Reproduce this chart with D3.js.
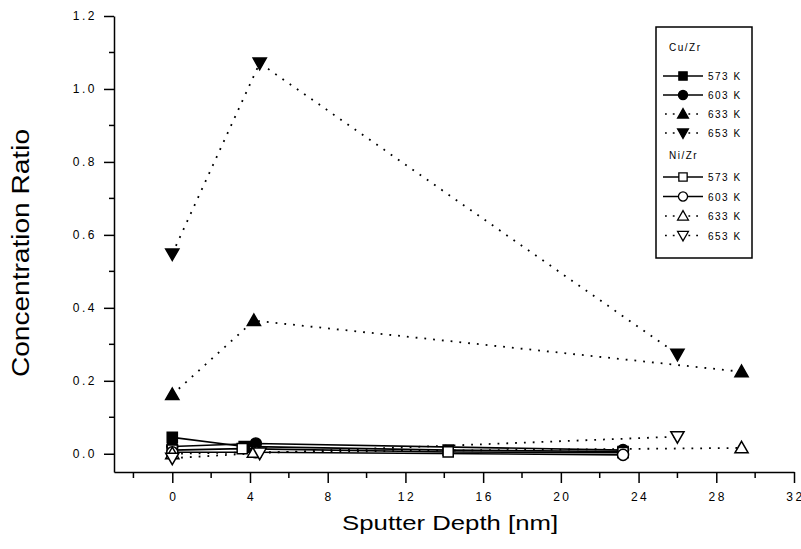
<!DOCTYPE html>
<html>
<head>
<meta charset="utf-8">
<script src="https://cdn.jsdelivr.net/npm/d3@7"></script>
<style>
  body { margin: 0; background: #fff; }
  text { font-family: "Liberation Sans", Arial, sans-serif; fill: #000; }
</style>
</head>
<body>
<div class="chart"></div>
<script>
// series: [depth nm, ratio]
const cuZr573 = [[0, 0.045], [3.7, 0.02], [14.2, 0.01], [23.2, 0.006]];
const cuZr603 = [[0, 0.02], [4.3, 0.028], [23.2, 0.01]];
const cuZr633 = [[0, 0.162], [4.2, 0.365], [29.3, 0.225]];
const cuZr653 = [[0, 0.548], [4.5, 1.071], [26, 0.273]];
const niZr573 = [[0, 0.01], [3.6, 0.014], [14.2, 0.005], [23.2, 0.003]];
const niZr603 = [[0, 0.004], [4.3, 0.004], [23.2, -0.003]];
const niZr633 = [[0, 0.0], [4.2, 0.004], [29.3, 0.016]];
const niZr653 = [[0, -0.012], [4.5, 0.002], [26, 0.047]];

const xTicks = [0, 4, 8, 12, 16, 20, 24, 28, 32];
const yTicks = [0.0, 0.2, 0.4, 0.6, 0.8, 1.0, 1.2];

const series = [
  { group: 'Cu/Zr', name: '573 K', data: cuZr573, sym: d3.symbolSquare, fill: true, dotted: false },
  { group: 'Cu/Zr', name: '603 K', data: cuZr603, sym: d3.symbolCircle, fill: true, dotted: false },
  { group: 'Cu/Zr', name: '633 K', data: cuZr633, sym: 'up', fill: true, dotted: true },
  { group: 'Cu/Zr', name: '653 K', data: cuZr653, sym: 'down', fill: true, dotted: true },
  { group: 'Ni/Zr', name: '573 K', data: niZr573, sym: d3.symbolSquare, fill: false, dotted: false },
  { group: 'Ni/Zr', name: '603 K', data: niZr603, sym: d3.symbolCircle, fill: false, dotted: false },
  { group: 'Ni/Zr', name: '633 K', data: niZr633, sym: 'up', fill: false, dotted: true },
  { group: 'Ni/Zr', name: '653 K', data: niZr653, sym: 'down', fill: false, dotted: true }
];

const W = 801, H = 549;
const m = { left: 114, top: 16, right: 7, bottom: 77 };
const width = W - m.left - m.right;
const height = H - m.top - m.bottom;

const svg = d3.select('.chart').append('svg')
  .attr('width', W)
  .attr('height', H);

const g = svg.append('g')
  .attr('transform', 'translate(' + m.left + ',' + m.top + ')');

const x = d3.scaleLinear().domain([-3, 32]).range([0, width]);
const y = d3.scaleLinear().domain([-0.05, 1.2]).range([height, 0]);

// triangles drawn by hand, the d3 one is too squat
function markerPath(sym, s) {
  if (sym === 'up') return 'M0,' + (-s * 0.6) + 'L' + (s * 0.6) + ',' + (s * 0.45) + 'L' + (-s * 0.6) + ',' + (s * 0.45) + 'Z';
  if (sym === 'down') return 'M0,' + (s * 0.6) + 'L' + (s * 0.6) + ',' + (-s * 0.45) + 'L' + (-s * 0.6) + ',' + (-s * 0.45) + 'Z';
  const area = sym === d3.symbolSquare ? s * s * 0.85 : s * s * 0.8;
  return d3.symbol().type(sym).size(area)();
}

// axes
const xAxis = g.append('g')
  .attr('transform', 'translate(0,' + height + ')')
  .call(d3.axisBottom(x).tickValues(xTicks).tickSize(11).tickSizeOuter(0).tickPadding(9).tickFormat(d3.format('d')));
xAxis.selectAll('.tick text').style('font-size', '12px').style('letter-spacing', '2.5px')
  .attr('dx', '1px');
xAxis.append('g').selectAll('line')
  .data(d3.range(-2, 32, 4))
  .join('line')
  .attr('x1', d => x(d)).attr('x2', d => x(d))
  .attr('y1', 0).attr('y2', 6)
  .attr('stroke', '#000').attr('stroke-width', 1.5);

const yAxis = g.append('g')
  .call(d3.axisLeft(y).tickValues(yTicks).tickSize(10).tickSizeOuter(0).tickPadding(7).tickFormat(d3.format('.1f')));
yAxis.selectAll('.tick text').style('font-size', '12px').style('letter-spacing', '2.5px');
yAxis.append('g').selectAll('line')
  .data(d3.range(0.1, 1.2, 0.2))
  .join('line')
  .attr('x1', 0).attr('x2', -5)
  .attr('y1', d => y(d)).attr('y2', d => y(d))
  .attr('stroke', '#000').attr('stroke-width', 1.5);

svg.selectAll('.domain, .tick line').attr('stroke-width', 1.5);
svg.selectAll('.tick text').style('font-family', '"Liberation Sans", Arial, sans-serif');

// axis titles
svg.append('text')
  .attr('transform', 'translate(29,' + (m.top + height / 2 + 9) + ') rotate(-90)')
  .attr('text-anchor', 'middle')
  .attr('textLength', 248)
  .attr('lengthAdjust', 'spacingAndGlyphs')
  .style('font-size', '23px')
  .text('Concentration Ratio');

svg.append('text')
  .attr('x', m.left + x(14.3))
  .attr('y', 530)
  .attr('text-anchor', 'middle')
  .attr('textLength', 216)
  .attr('lengthAdjust', 'spacingAndGlyphs')
  .style('font-size', '21px')
  .text('Sputter Depth [nm]');

// lines + markers
const line = d3.line().x(d => x(d[0])).y(d => y(d[1]));

series.forEach(s => {
  g.append('path')
    .datum(s.data)
    .attr('fill', 'none')
    .attr('stroke', '#000')
    .attr('stroke-width', s.dotted ? 1.8 : 1.6)
    .attr('stroke-dasharray', s.dotted ? '1.8,7' : null)
    .attr('d', line);
});

series.forEach(s => {
  g.append('g').selectAll('path')
    .data(s.data)
    .join('path')
    .attr('transform', d => 'translate(' + x(d[0]) + ',' + y(d[1]) + ')')
    .attr('d', markerPath(s.sym, 11))
    .attr('fill', s.fill ? '#000' : '#fff')
    .attr('stroke', '#000')
    .attr('stroke-width', 1.5);
});

// legend
const lg = svg.append('g').attr('transform', 'translate(656,27)');
lg.append('rect')
  .attr('width', 96).attr('height', 231)
  .attr('fill', '#fff').attr('stroke', '#000').attr('stroke-width', 1.5);

['Cu/Zr', 'Ni/Zr'].forEach((grp, gi) => {
  lg.append('text')
    .attr('x', 13).attr('y', (gi === 0 ? 20 : 128) + 4)
    .style('font-size', '10px').style('letter-spacing', '1.5px')
    .text(grp);
  series.filter(s => s.group === grp).forEach((s, i) => {
    const ry = gi === 0 ? 49 + i * 19 : 150 + i * 19.5;
    lg.append('line')
      .attr('x1', 7).attr('x2', 47)
      .attr('y1', ry).attr('y2', ry)
      .attr('stroke', '#000').attr('stroke-width', 1.6)
      .attr('stroke-dasharray', s.dotted ? '1.8,6' : null)
      .attr('stroke-dashoffset', s.dotted ? -2 : 0);
    lg.append('path')
      .attr('transform', 'translate(27,' + ry + ')')
      .attr('d', markerPath(s.sym, 9))
      .attr('fill', s.fill ? '#000' : '#fff')
      .attr('stroke', '#000').attr('stroke-width', 1.3);
    lg.append('text')
      .attr('x', 52).attr('y', ry + 4)
      .style('font-size', '10px').style('letter-spacing', '1.5px')
      .text(s.name);
  });
});
</script>
</body>
</html>
